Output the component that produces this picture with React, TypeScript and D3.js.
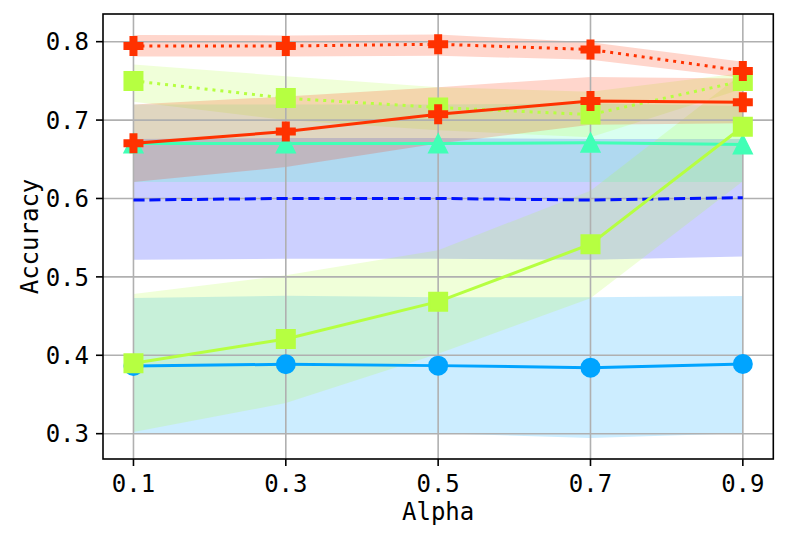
import React, { useEffect, useRef } from "react";
import * as d3 from "d3";

// x values and y ticks
const alphas = [0.1, 0.3, 0.5, 0.7, 0.9];
const yTicks = [0.3, 0.4, 0.5, 0.6, 0.7, 0.8];

// blue dashed, no markers
const blueMean = [0.598, 0.6, 0.6, 0.598, 0.601];
const blueLow = [0.522, 0.523, 0.523, 0.522, 0.526];
const blueHigh = [0.676, 0.677, 0.677, 0.676, 0.676];

// sky blue, circles
const skyMean = [0.3864, 0.3885, 0.3868, 0.3842, 0.3889];
const skyLow = [0.3, 0.301, 0.3005, 0.2945, 0.3005];
const skyHigh = [0.473, 0.476, 0.474, 0.474, 0.4755];

// teal, triangles
const tealMean = [0.67, 0.67, 0.67, 0.671, 0.669];
const tealLow = [0.621, 0.621, 0.621, 0.621, 0.621];
const tealHigh = [0.72, 0.72, 0.72, 0.721, 0.718];

// chartreuse solid, squares
const limeMean = [0.3898, 0.4208, 0.4684, 0.5416, 0.6916];
const limeLow = [0.302, 0.339, 0.402, 0.4727, 0.622];
const limeHigh = [0.478, 0.502, 0.534, 0.61, 0.76];

// chartreuse dotted, squares
const limeDotMean = [0.75, 0.728, 0.716, 0.707, 0.75];
const limeDotLow = [0.7235, 0.7, 0.687, 0.678, 0.74];
const limeDotHigh = [0.771, 0.756, 0.742, 0.736, 0.76];

// red solid, filled plus
const redMean = [0.6704, 0.6853, 0.7074, 0.7244, 0.7227];
const redLow = [0.621, 0.64, 0.67, 0.694, 0.696];
const redHigh = [0.72, 0.73, 0.742, 0.755, 0.753];

// red dotted, filled plus
const redDotMean = [0.7945, 0.7945, 0.7967, 0.79, 0.7627];
const redDotLow = [0.781, 0.781, 0.782, 0.777, 0.754];
const redDotHigh = [0.8085, 0.808, 0.809, 0.7994, 0.7745];

type Marker = "none" | "circle" | "triangle" | "square" | "plus";

const series: {
	mean: number[];
	low: number[];
	high: number[];
	color: string;
	dash: string | null;
	marker: Marker;
}[] = [
	{ mean: blueMean, low: blueLow, high: blueHigh, color: "#0012ff", dash: "11.1,4.8", marker: "none" },
	{ mean: skyMean, low: skyLow, high: skyHigh, color: "#00a4ff", dash: null, marker: "circle" },
	{ mean: tealMean, low: tealLow, high: tealHigh, color: "#41ffb6", dash: null, marker: "triangle" },
	{ mean: limeMean, low: limeLow, high: limeHigh, color: "#b6ff41", dash: null, marker: "square" },
	{ mean: limeDotMean, low: limeDotLow, high: limeDotHigh, color: "#b6ff41", dash: "3,4.95", marker: "square" },
	{ mean: redMean, low: redLow, high: redHigh, color: "#ff3200", dash: null, marker: "plus" },
	{ mean: redDotMean, low: redDotLow, high: redDotHigh, color: "#ff3200", dash: "3,4.95", marker: "plus" },
];

const markerPath = (m: Marker): string => {
	if (m === "triangle") return "M0,-9L-9,9L9,9Z";
	if (m === "square") return "M-9,-9H9V9H-9Z";
	if (m === "plus") return "M-3,-9H3V-3H9V3H3V9H-3V3H-9V-3H-3Z";
	return "";
};

const App: React.FC = () => {
	const ref = useRef<SVGSVGElement | null>(null);

	useEffect(() => {
		if (!ref.current) return;
		const width = 788;
		const height = 542;
		const left = 103;
		const right = 773.3;
		const top = 14;
		const bottom = 459;

		const svg = d3.select(ref.current);
		svg.selectAll("*").remove();

		const x = d3.scaleLinear().domain([0.06, 0.94]).range([left, right]);
		const y = d3.scaleLinear().domain([0.2677, 0.8353]).range([bottom, top]);

		const font = "'DejaVu Sans Mono', monospace";

		// bands
		series.forEach((s) => {
			const area = d3
				.area<number>()
				.x((_, i) => x(alphas[i]))
				.y0((_, i) => y(s.low[i]))
				.y1((_, i) => y(s.high[i]));
			svg.append("path")
				.attr("d", area(s.mean) as string)
				.attr("fill", s.color)
				.attr("fill-opacity", 0.2);
		});

		// grid
		const grid = svg.append("g").attr("stroke", "#b0b0b0").attr("stroke-width", 1.6);
		alphas.forEach((a) => {
			grid.append("line").attr("x1", x(a)).attr("x2", x(a)).attr("y1", top).attr("y2", bottom);
		});
		yTicks.forEach((t) => {
			grid.append("line").attr("x1", left).attr("x2", right).attr("y1", y(t)).attr("y2", y(t));
		});

		// lines and markers
		series.forEach((s) => {
			const line = d3
				.line<number>()
				.x((_, i) => x(alphas[i]))
				.y((d) => y(d));
			svg.append("path")
				.attr("d", line(s.mean) as string)
				.attr("fill", "none")
				.attr("stroke", s.color)
				.attr("stroke-width", 3)
				.attr("stroke-dasharray", s.dash)
				.attr("stroke-linecap", s.dash ? "butt" : "square");

			if (s.marker === "none") return;
			const g = svg.append("g");
			s.mean.forEach((v, i) => {
				const cx = x(alphas[i]);
				const cy = y(v);
				if (s.marker === "circle") {
					g.append("circle")
						.attr("cx", cx)
						.attr("cy", cy)
						.attr("r", 9)
						.attr("fill", s.color)
						.attr("stroke", s.color)
						.attr("stroke-width", 2);
				} else {
					g.append("path")
						.attr("d", markerPath(s.marker))
						.attr("transform", `translate(${cx},${cy})`)
						.attr("fill", s.color)
						.attr("stroke", s.color)
						.attr("stroke-width", 2)
						.attr("stroke-linejoin", "miter");
				}
			});
		});

		// spines
		svg.append("rect")
			.attr("x", left)
			.attr("y", top)
			.attr("width", right - left)
			.attr("height", bottom - top)
			.attr("fill", "none")
			.attr("stroke", "black")
			.attr("stroke-width", 1.6);

		// x ticks
		alphas.forEach((a) => {
			svg.append("line")
				.attr("x1", x(a))
				.attr("x2", x(a))
				.attr("y1", bottom)
				.attr("y2", bottom + 7)
				.attr("stroke", "black")
				.attr("stroke-width", 1.6);
			svg.append("text")
				.attr("x", x(a))
				.attr("y", 492)
				.attr("text-anchor", "middle")
				.attr("font-family", font)
				.attr("font-size", 24)
				.text(d3.format(".1f")(a));
		});

		// y ticks
		yTicks.forEach((t) => {
			svg.append("line")
				.attr("x1", left - 7)
				.attr("x2", left)
				.attr("y1", y(t))
				.attr("y2", y(t))
				.attr("stroke", "black")
				.attr("stroke-width", 1.6);
			svg.append("text")
				.attr("x", 89)
				.attr("y", y(t))
				.attr("dy", "0.36em")
				.attr("text-anchor", "end")
				.attr("font-family", font)
				.attr("font-size", 24)
				.text(d3.format(".1f")(t));
		});

		svg.append("text")
			.attr("x", (left + right) / 2)
			.attr("y", 520)
			.attr("text-anchor", "middle")
			.attr("font-family", font)
			.attr("font-size", 24)
			.text("Alpha");

		svg.append("text")
			.attr("transform", `translate(38,${(top + bottom) / 2}) rotate(-90)`)
			.attr("text-anchor", "middle")
			.attr("font-family", font)
			.attr("font-size", 24)
			.text("Accuracy");

		svg.attr("width", width).attr("height", height);
	}, []);

	return (
		<svg
			ref={ref}
			width={788}
			height={542}
			style={{ position: "absolute", left: 0, top: 0, background: "white" }}
		/>
	);
};

export default App;
